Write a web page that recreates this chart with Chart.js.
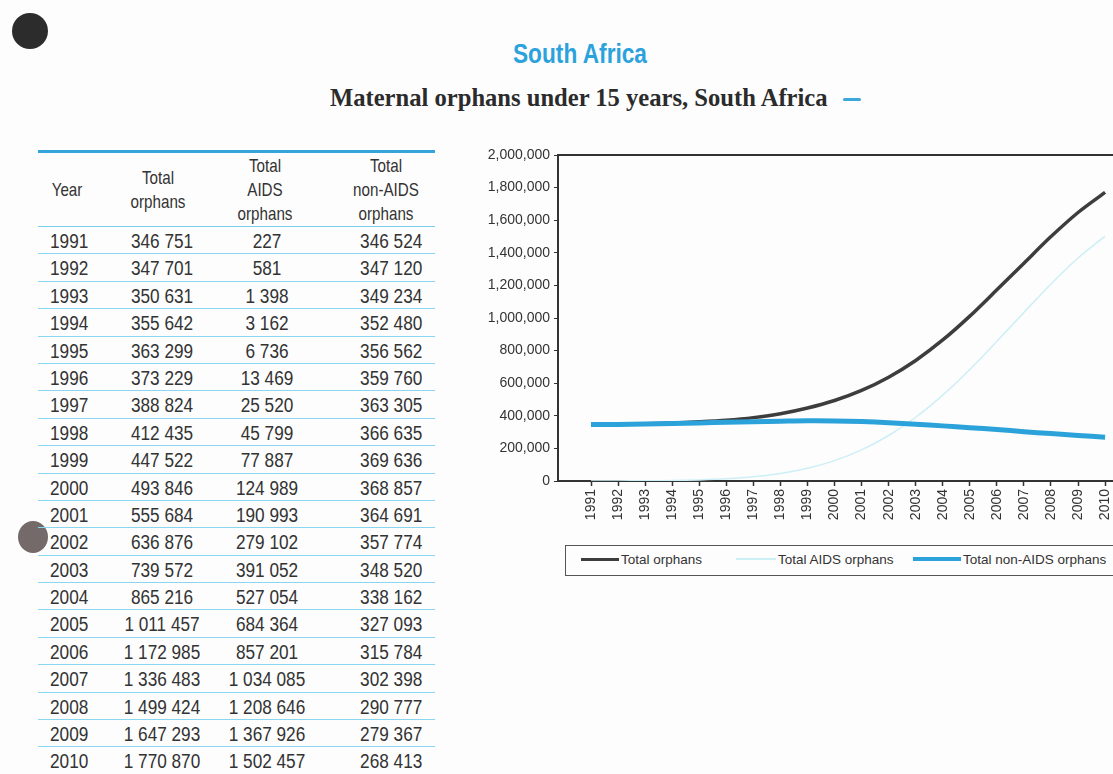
<!DOCTYPE html>
<html>
<head>
<meta charset="utf-8">
<script src="https://cdn.jsdelivr.net/npm/chart.js@4.4.0/dist/chart.umd.min.js"></script>
<style>
  html, body { margin: 0; padding: 0; background: #fdfdfd; overflow: hidden; }
  body { width: 1113px; height: 774px; position: relative; }
  .hole { position: absolute; border-radius: 50%; }
  #title { position: absolute; left: 0; width: 1160px; top: 39px; text-align: center;
    font-family: "Liberation Sans", Arial, sans-serif; font-weight: bold;
    font-size: 27px; color: #2ba2dc; transform: scaleX(0.84); transform-origin: 580px 0; }
  #subtitle { position: absolute; left: 330px; top: 84px; font-family: "Liberation Serif", serif;
    font-weight: bold; font-size: 24.6px; color: #2b2b2b; white-space: nowrap; }
  #dash { position: absolute; left: 843px; top: 98px; width: 18px; height: 3px; background: #3aa8dc; border-radius: 2px; }
  #tbl { position: absolute; left: 38px; top: 150px; width: 397px;
    font-family: "Liberation Sans", Arial, sans-serif; color: #333; }
  #tbl .top { height: 3px; background: #35a4da; }
  #tbl .head { position: relative; height: 73px; border-bottom: 1px solid #7ccfea; font-size: 19px; line-height: 24px; }
  #tbl .head div { position: absolute; text-align: center; transform: scaleX(0.8); }
  #tbl .row { position: relative; height: 26.4px; border-bottom: 1px solid #8ad6ee; font-size: 20px; line-height: 28px; }
  #tbl .row span { position: absolute; top: 0; white-space: nowrap; }
  #tbl .row span.l { transform: scaleX(0.86); transform-origin: 0 0; }
  #tbl .row span.c { transform: translateX(-50%) scaleX(0.86); }
  #tbl .row span.r { transform: scaleX(0.86); transform-origin: 100% 0; }
  #chartBox { position: absolute; left: 470px; top: 140px; width: 660px; height: 400px; }
  #legend { position: absolute; left: 565px; top: 545px; width: 560px; height: 29px;
    border: 1px solid #555; font-family: "Liberation Sans", Arial, sans-serif; font-size: 13.5px; color: #333; }
  #legend .item { position: absolute; top: 6px; white-space: nowrap; }
  #legend .swatch { display: inline-block; vertical-align: middle; margin-right: 2px; margin-top: -2px; }
</style>
</head>
<body>
<div class="hole" style="left:12px;top:13px;width:36px;height:36px;background:#2c2c2c;"></div>
<div class="hole" style="left:18px;top:521px;width:30px;height:32px;background:#746a6a;"></div>

<div id="title">South Africa</div>
<div id="subtitle">Maternal orphans under 15 years, South Africa</div>
<div id="dash"></div>

<div id="tbl"></div>

<div id="chartBox"><canvas id="lineChart"></canvas></div>
<div id="legend"></div>

<script>
// ===== DATA =====
const years = [1991, 1992, 1993, 1994, 1995, 1996, 1997, 1998, 1999, 2000,
  2001, 2002, 2003, 2004, 2005, 2006, 2007, 2008, 2009, 2010];
const totalOrphans = [346751, 347701, 350631, 355642, 363299, 373229, 388824, 412435, 447522, 493846,
  555684, 636876, 739572, 865216, 1011457, 1172985, 1336483, 1499424, 1647293, 1770870];
const aidsOrphans = [227, 581, 1398, 3162, 6736, 13469, 25520, 45799, 77887, 124989,
  190993, 279102, 391052, 527054, 684364, 857201, 1034085, 1208646, 1367926, 1502457];
const nonAidsOrphans = [346524, 347120, 349234, 352480, 356562, 359760, 363305, 366635, 369636, 368857,
  364691, 357774, 348520, 338162, 327093, 315784, 302398, 290777, 279367, 268413];
const seriesNames = ["Total orphans", "Total AIDS orphans", "Total non-AIDS orphans"];
const yTicks = [0, 200000, 400000, 600000, 800000, 1000000, 1200000, 1400000, 1600000, 1800000, 2000000];

// ===== TABLE =====
const spaced = n => String(n).replace(/\B(?=(\d{3})+(?!\d))/g, " ");
const tbl = document.getElementById("tbl");
let html = '<div class="top"></div><div class="head">' +
  '<div style="left:0;width:58px;top:25px;">Year</div>' +
  '<div style="left:76px;width:88px;top:13px;">Total<br>orphans</div>' +
  '<div style="left:183px;width:88px;top:1px;">Total<br>AIDS<br>orphans</div>' +
  '<div style="left:294px;width:108px;top:1px;">Total<br>non-AIDS<br>orphans</div></div>';
years.forEach((y, i) => {
  html += '<div class="row">' +
    '<span class="l" style="left:12px;">' + y + '</span>' +
    '<span class="c" style="left:124px;">' + spaced(totalOrphans[i]) + '</span>' +
    '<span class="c" style="left:229px;">' + spaced(aidsOrphans[i]) + '</span>' +
    '<span class="r" style="right:13px;">' + spaced(nonAidsOrphans[i]) + '</span></div>';
});
tbl.innerHTML = html;

// ===== CHART =====
const colors = ["#3d3d3d", "#cdeff6", "#2ca2da"];
const widths = [3.5, 1.5, 5];
const seriesData = [totalOrphans, aidsOrphans, nonAidsOrphans];

const frameTop = {
  id: "frameTop",
  afterDraw(chart) {
    const { ctx, chartArea } = chart;
    ctx.save();
    ctx.strokeStyle = "#333";
    ctx.lineWidth = 2;
    ctx.beginPath();
    ctx.moveTo(chartArea.left, chartArea.top);
    ctx.lineTo(chartArea.right, chartArea.top);
    ctx.stroke();
    ctx.restore();
  }
};

new Chart(document.getElementById("lineChart"), {
  type: "line",
  data: {
    datasets: seriesNames.map((name, s) => ({
      label: name,
      data: years.map((y, i) => ({ x: y, y: seriesData[s][i] })),
      borderColor: colors[s],
      borderWidth: widths[s],
      pointRadius: 0,
      tension: 0.3,
      fill: false
    })).reverse()
  },
  options: {
    responsive: true,
    maintainAspectRatio: false,
    animation: false,
    layout: { padding: { top: 15, right: 0, left: 0, bottom: 0 } },
    plugins: { legend: { display: false }, tooltip: { enabled: false } },
    scales: {
      x: {
        type: "linear",
        min: 1989.78,
        max: 2010.92,
        afterBuildTicks: axis => { axis.ticks = years.map(v => ({ value: v })); },
        afterFit: axis => { axis.height = 59; },
        grid: { drawOnChartArea: false, tickLength: 5, color: "#333", tickWidth: 1.5 },
        border: { color: "#333", width: 2 },
        ticks: {
          autoSkip: false, maxRotation: 90, minRotation: 90, color: "#333",
          font: { family: "Liberation Sans, Arial, sans-serif", size: 14 },
          callback: v => String(v)
        }
      },
      y: {
        min: 0,
        max: 2000000,
        afterBuildTicks: axis => { axis.ticks = yTicks.map(v => ({ value: v })); },
        afterFit: axis => { axis.width = 88; },
        grid: { drawOnChartArea: false, tickLength: 4, color: "#333" },
        border: { color: "#333", width: 2 },
        ticks: {
          color: "#333",
          padding: 4,
          font: { family: "Liberation Sans, Arial, sans-serif", size: 14 },
          callback: v => v.toLocaleString("en-US")
        }
      }
    }
  },
  plugins: [frameTop]
});

// ===== LEGEND =====
const legend = document.getElementById("legend");
const legendX = [15, 170, 347];
const swatchW = [38, 40, 48];
seriesNames.forEach((name, s) => {
  const item = document.createElement("div");
  item.className = "item";
  item.style.left = legendX[s] + "px";
  item.innerHTML = '<span class="swatch" style="width:' + swatchW[s] + 'px;height:' + Math.max(2, widths[s] - 1) + 'px;background:' + colors[s] + ';"></span>' + name;
  legend.appendChild(item);
});
</script>
</body>
</html>
